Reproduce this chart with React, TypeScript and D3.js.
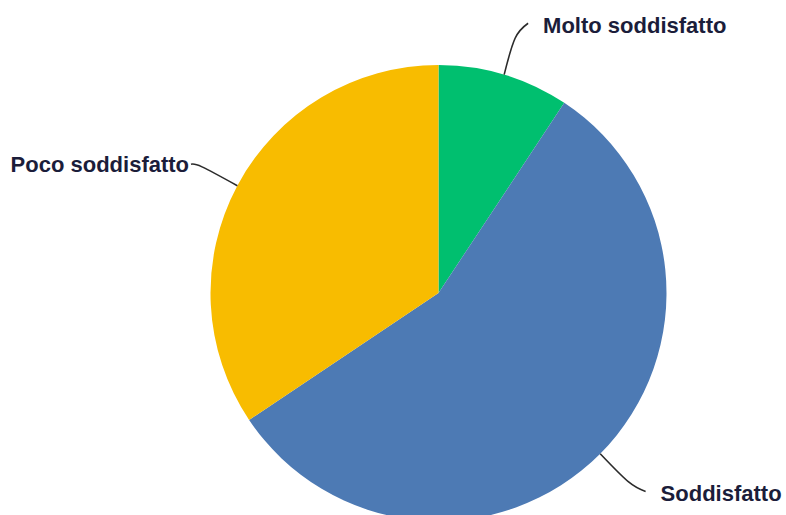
import React from "react";
import * as d3 from "d3";

const categories = ["Molto soddisfatto", "Soddisfatto", "Poco soddisfatto"];
const values = [9.3, 56.3, 34.4];
const colors = ["#00BF6F", "#4D7AB4", "#F8BC00"];

// leader layout per label: extra radial length, final offset, text anchor
const leaderExt = [38, 40, 40];
const leaderEnd: [number, number][] = [[13, -15], [17, 9.5], [-11, -2.6]];
const textOff: [number, number][] = [[15, 10], [15, 10], [-2, 8]];
const anchors = ["start", "start", "end"];

const W = 786;
const H = 515;
const cx = 438.5;
const cy = 293;
const R = 228;

export default function App() {
  const pie = d3.pie<number>().sort(null).value((d) => d);
  const arcs = pie(values);
  const arcGen = d3.arc<d3.PieArcDatum<number>>().innerRadius(0).outerRadius(R);
  const lineGen = d3.line<[number, number]>().curve(d3.curveNatural);

  return (
    <div style={{ position: "fixed", left: 0, top: 0, width: W, height: H, background: "#fff" }}>
      <svg width={W} height={H} style={{ display: "block" }}>
        <g transform={`translate(${cx},${cy})`}>
          {arcs.map((a, i) => (
            <path key={i} d={arcGen(a) || ""} fill={colors[i]} />
          ))}
          {arcs.map((a, i) => {
            const mid = (a.startAngle + a.endAngle) / 2;
            const p0: [number, number] = [R * Math.sin(mid), -R * Math.cos(mid)];
            const r1 = R + leaderExt[i];
            const p1: [number, number] = [r1 * Math.sin(mid), -r1 * Math.cos(mid)];
            const p2: [number, number] = [p1[0] + leaderEnd[i][0], p1[1] + leaderEnd[i][1]];
            return (
              <g key={"l" + i}>
                <path d={lineGen([p0, p1, p2]) || ""} fill="none" stroke="#2b2b2b" strokeWidth={1.6} />
                <text
                  x={p2[0] + textOff[i][0]}
                  y={p2[1] + textOff[i][1]}
                  textAnchor={anchors[i]}
                  fontFamily="'Liberation Sans', Arial, sans-serif"
                  fontWeight="bold"
                  fontSize={22}
                  fill="#1b1d3a"
                >
                  {categories[i]}
                </text>
              </g>
            );
          })}
        </g>
      </svg>
    </div>
  );
}
